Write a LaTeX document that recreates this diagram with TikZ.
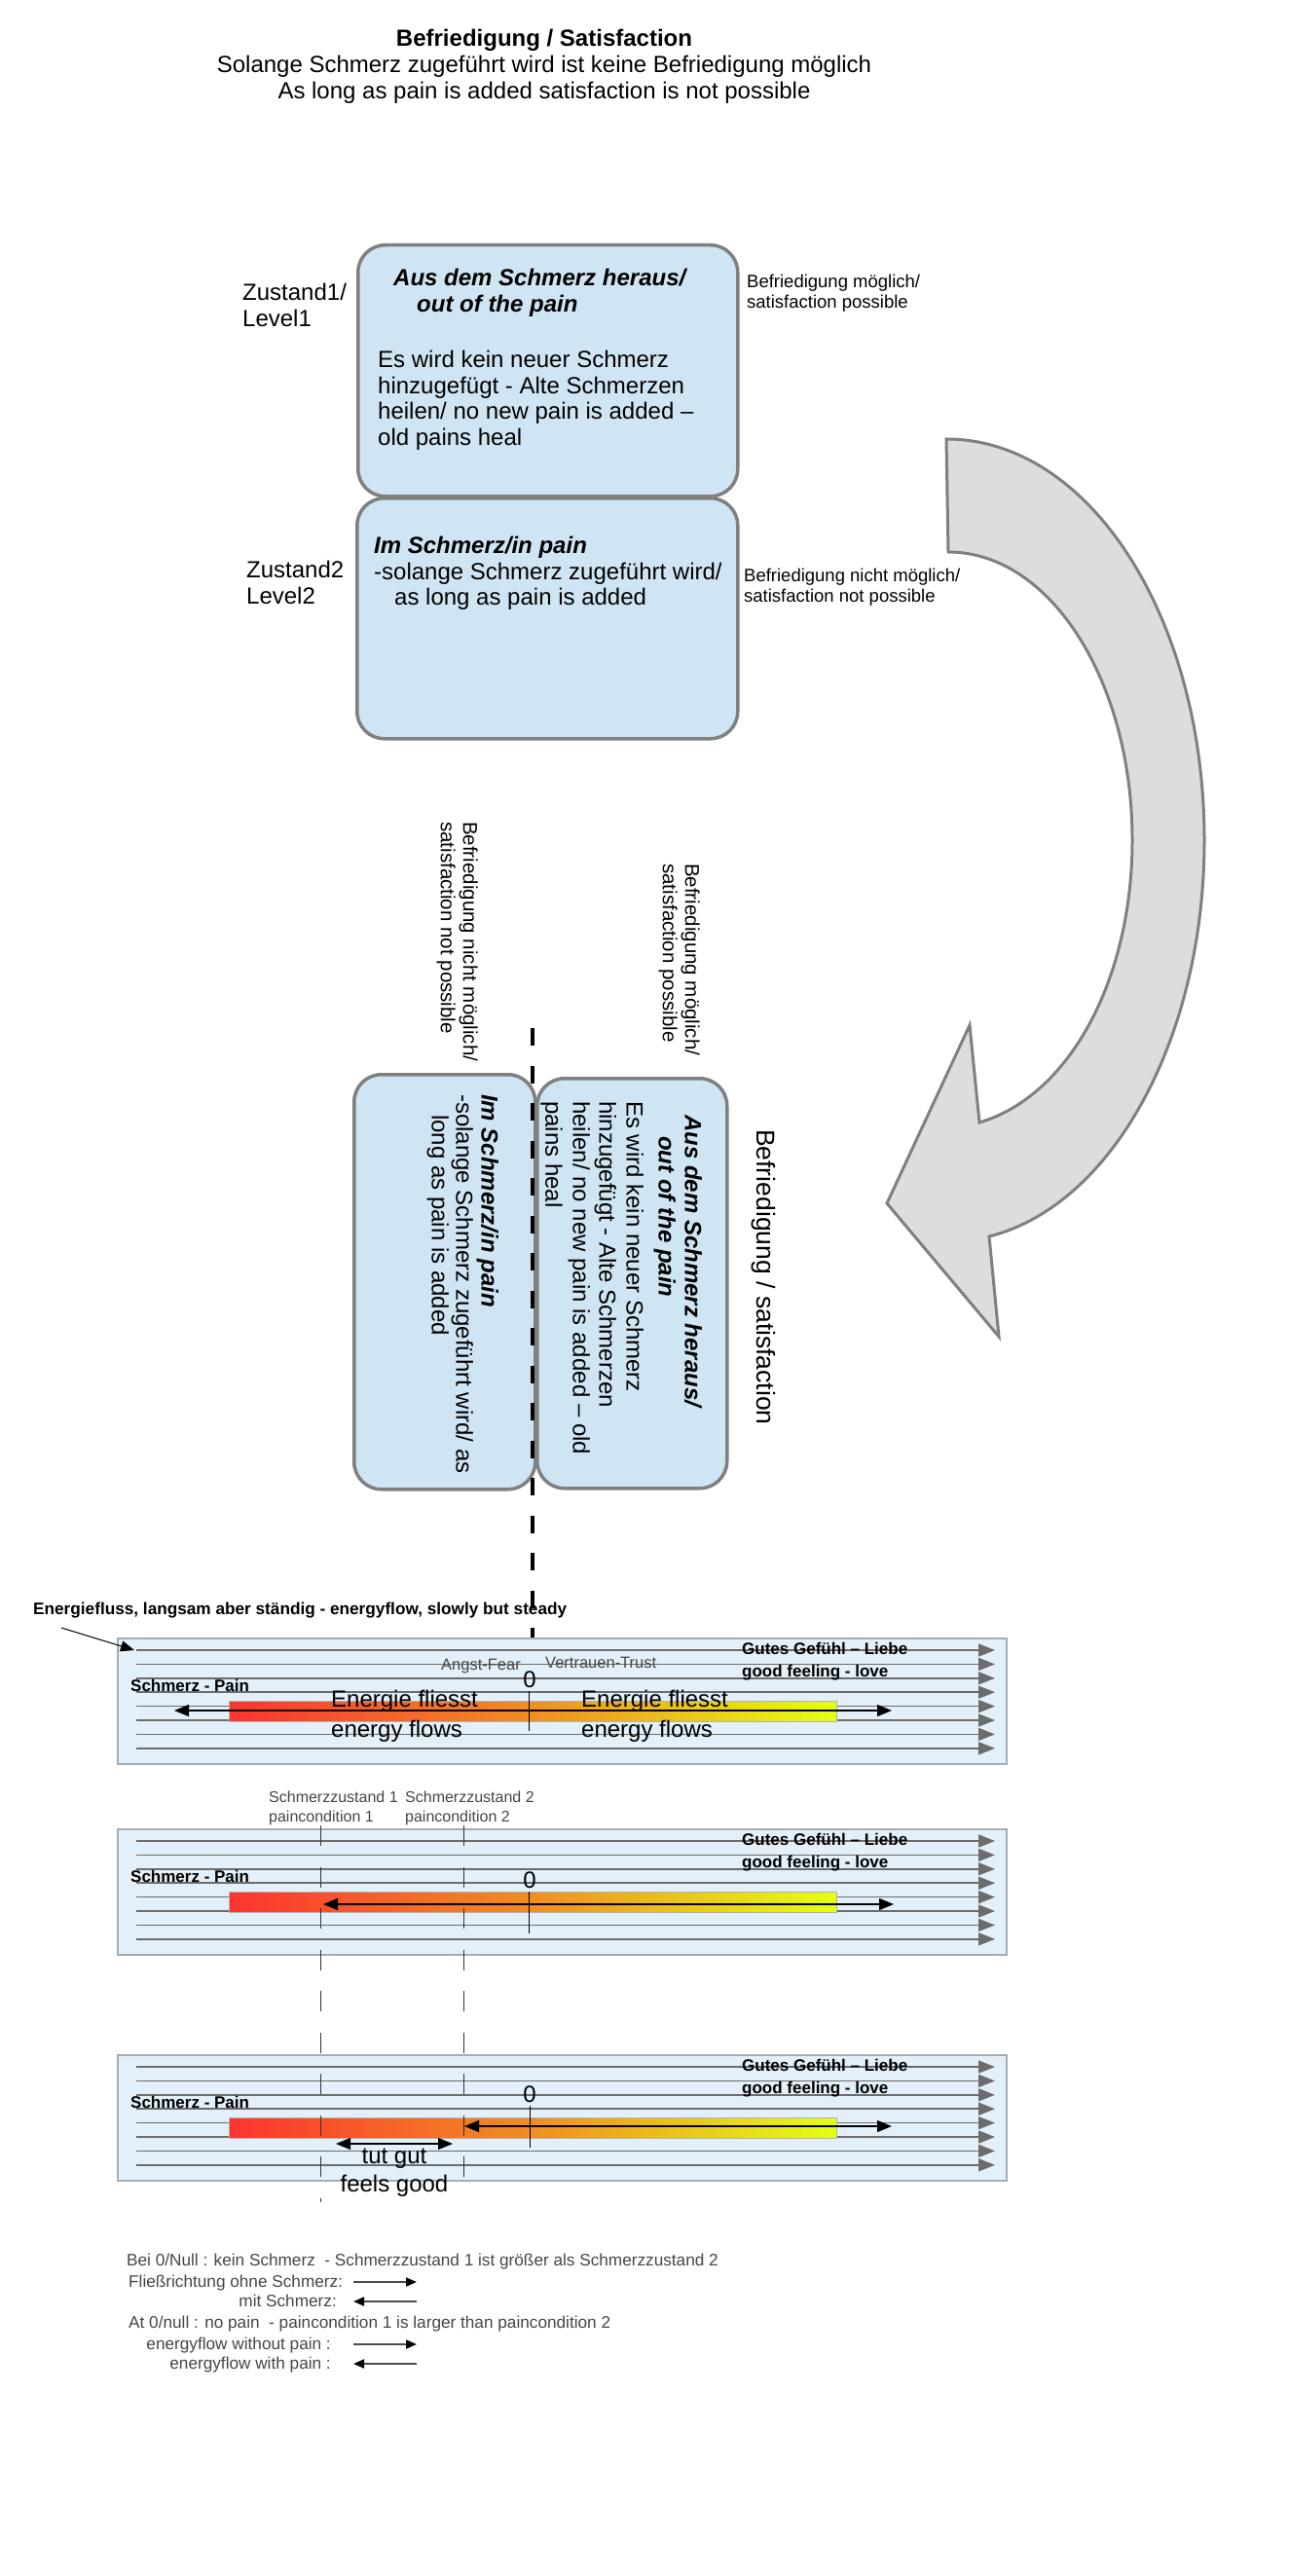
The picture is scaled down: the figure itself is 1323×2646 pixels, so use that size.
\documentclass[tikz,border=0pt]{standalone}
\usepackage{fontspec}
\setmainfont{Liberation Sans}
\usetikzlibrary{arrows.meta,calc,positioning}
\definecolor{boxblue}{RGB}{208,229,243}
\definecolor{boxgray}{RGB}{128,128,128}
\definecolor{rowblue}{RGB}{228,240,249}
\definecolor{rowedge}{RGB}{165,172,180}
\definecolor{flowgray}{RGB}{108,108,108}
\definecolor{bendgray}{RGB}{221,221,221}
\definecolor{painred}{RGB}{252,52,48}
\definecolor{painorange}{RGB}{240,142,34}
\definecolor{loveyellow}{RGB}{228,255,20}
\definecolor{faintgray}{RGB}{70,70,70}
\tikzset{levelbox/.style={draw=boxgray, fill=boxblue, line width=3.5pt, rounded corners=28pt, inner sep=0pt}}
\tikzset{bendarrow/.style={draw=boxgray, fill=bendgray, line width=3pt}}
\tikzset{rowbox/.style={draw=rowedge, fill=rowblue, line width=1.5pt, inner sep=0pt, minimum width=913pt, minimum height=129pt}}
\tikzset{painbar/.style={draw=gray!60, line width=0.8pt, inner sep=0pt, minimum width=624pt, minimum height=21pt, left color=painred, right color=loveyellow, middle color=painorange}}
\tikzset{flow/.style={draw=flowgray, line width=1.6pt, -{Triangle[length=17pt,width=13pt]}}}
\tikzset{flowline/.style={draw=black, line width=1.3pt, {Triangle[length=15pt,width=12pt]}-{Triangle[length=15pt,width=12pt]}}}
\tikzset{keyarrow/.style={draw=black!70, line width=2pt, -{Triangle[length=11pt,width=9pt,black]}}}
\tikzset{pointer/.style={draw=black, line width=1pt, -{Triangle[length=14pt,width=11pt]}}}
\tikzset{cutline/.style={draw=black, line width=3.5pt, dash pattern=on 18pt off 20.5pt}}
\tikzset{pcline/.style={draw=black!80, line width=1pt, dash pattern=on 21pt off 21.5pt}}
\tikzset{zeroline/.style={draw=black, line width=1pt}}
\tikzset{txt/.style={inner sep=0pt, font=\fontsize{24}{26.5}\selectfont}}
\tikzset{bitxt/.style={inner sep=0pt, font=\bfseries\itshape\fontsize{24}{26.5}\selectfont}}
\tikzset{smalltxt/.style={inner sep=0pt, font=\fontsize{18.5}{21}\selectfont}}
\tikzset{sidetxt/.style={inner sep=0pt, font=\fontsize{20.5}{23}\selectfont}}
\tikzset{tag/.style={inner sep=0pt, font=\bfseries\fontsize{17}{23}\selectfont}}
\tikzset{faint/.style={inner sep=0pt, text=faintgray, font=\fontsize{16}{20}\selectfont}}
\tikzset{keytxt/.style={inner sep=0pt, text=faintgray, font=\fontsize{17.2}{20}\selectfont}}
\begin{document}
\begin{tikzpicture}[x=1pt, y=-1pt]
\useasboundingbox (0,0) rectangle (1323,2646);
\path[fill=white] (0,0) rectangle (1323,2646);

% title
\node[txt, font=\fontsize{24}{27}\selectfont, align=center, anchor=north] (title) at (559,30) {\textbf{Befriedigung / Satisfaction}\\Solange Schmerz zugeführt wird ist keine Befriedigung möglich\\As long as pain is added satisfaction is not possible};

% the two levels
\node[levelbox, minimum width=390pt, minimum height=258pt, anchor=north west] (lvl1) at (366,250) {};
\node[levelbox, minimum width=391pt, minimum height=247pt, anchor=north west] (lvl2) at (365,510) {};

\node[txt, align=left, anchor=north west] (zst1) at (249,291) {Zustand1/\\Level1};
\node[txt, align=left, anchor=north west] (zst2) at (253,576) {Zustand2\\Level2};

\node[bitxt, anchor=base west] (outhead) at (404,293.5) {Aus dem Schmerz heraus/};
\node[bitxt, anchor=base west] (outsub) at (428,320) {out of the pain};
\node[txt, align=left, anchor=north west] (outbody) at (388,360) {Es wird kein neuer Schmerz\\hinzugefügt - Alte Schmerzen\\heilen/ no new pain is added –\\old pains heal};

\node[bitxt, anchor=base west] (inhead) at (384,568.5) {Im Schmerz/in pain};
\node[txt, anchor=base west] (inbody) at (384,595.5) {-solange Schmerz zugeführt wird/};
\node[txt, anchor=base west] (inbody2) at (405,621.5) {as long as pain is added};

\node[smalltxt, align=left, anchor=north west] (satyes) at (767,281.5) {Befriedigung möglich/\\satisfaction possible};
\node[smalltxt, align=left, anchor=north west] (satno) at (764,584) {Befriedigung nicht möglich/\\satisfaction not possible};

% turning arrow
\draw[bendarrow] (972,451) .. controls (1120,451) and (1237,636) .. (1237,863)
  .. controls (1237,1066) and (1143,1238) .. (1016,1270) -- (1026,1373) -- (911,1236) -- (996,1053) -- (1006,1153)
  .. controls (1100,1125) and (1163,1004) .. (1163,863) .. controls (1163,700) and (1079,567) .. (974,567) -- cycle;

% the levels turned
\node[levelbox, minimum width=186pt, minimum height=426pt, anchor=north west] (rotin) at (362,1102) {};
\node[levelbox, minimum width=195pt, minimum height=421pt, anchor=north west] (rotout) at (550,1106) {};

\node[bitxt, rotate=-90, anchor=base west] (rotinhead) at (494.6,1124) {Im Schmerz/in pain};
\node[txt, rotate=-90, anchor=base west] (rotinbody) at (468.6,1124) {-solange Schmerz zugeführt wird/ as};
\node[txt, rotate=-90, anchor=base west] (rotinbody2) at (443.6,1145) {long as pain is added};

\node[bitxt, rotate=-90, anchor=base west] (rotouthead) at (703.6,1145) {Aus dem Schmerz heraus/};
\node[bitxt, rotate=-90, anchor=base west] (rotoutsub) at (676.6,1167) {out of the pain};
\node[txt, rotate=-90, anchor=base west] (rotoutb1) at (643.6,1131) {Es wird kein neuer Schmerz};
\node[txt, rotate=-90, anchor=base west] (rotoutb2) at (615.5,1131) {hinzugefügt - Alte Schmerzen};
\node[txt, rotate=-90, anchor=base west] (rotoutb3) at (588.6,1131) {heilen/ no new pain is added – old};
\node[txt, rotate=-90, anchor=base west] (rotoutb4) at (560.3,1131) {pains heal};

\node[sidetxt, rotate=-90, align=left, anchor=north west] (rotsatno) at (491,844) {Befriedigung nicht möglich/\\satisfaction not possible};
\node[sidetxt, rotate=-90, align=left, anchor=north west] (rotsatyes) at (719,887) {Befriedigung möglich/\\satisfaction possible};
\node[txt, font=\fontsize{26.5}{30}\selectfont, rotate=-90, anchor=base west] (rotsat) at (777,1160) {Befriedigung / satisfaction};

\coordinate (cuttop) at (547,1056);
\coordinate (cutend) at (547,1690);
\path[cutline] (cuttop) -- (cutend);

% energy rows
\foreach \rowname/\rowy in {one/1682,two/1878,three/2110}{
  \node[rowbox, anchor=north west] (row\rowname) at (120,\rowy) {};
  \foreach \k in {0,...,7}
    \path[flow] (140,{\rowy+13+14.4*\k}) -- (1022,{\rowy+13+14.4*\k});
  \node[painbar, anchor=north west] (bar\rowname) at (235,{\rowy+65}) {};
  \node[tag, anchor=base west] (pain\rowname) at (134,{\rowy+55}) {Schmerz - Pain};
  \node[tag, align=left, anchor=north west] (love\rowname) at (762,{\rowy+4.6}) {Gutes Gefühl – Liebe\\good feeling - love};
}

% row one
\coordinate (lone) at (179,1757);
\coordinate (rone) at (916,1757);
\path[flowline] (lone) -- (rone);
\draw[zeroline] (543,1737) -- (543,1778);
\node[txt, anchor=base] (zeroone) at (544,1733) {0};
\node[faint, font=\fontsize{16.5}{20}\selectfont, anchor=base east] (fear) at (535,1715) {Angst-Fear};
\node[faint, font=\fontsize{16.5}{20}\selectfont, anchor=base west] (trust) at (560,1713) {Vertrauen-Trust};
\node[txt, anchor=base west] (flowsa) at (340,1753) {Energie fliesst};
\node[txt, anchor=base west] (flowsb) at (340,1784) {energy flows};
\node[txt, anchor=base west] (flowsc) at (597,1753) {Energie fliesst};
\node[txt, anchor=base west] (flowsd) at (597,1784) {energy flows};

\node[tag, font=\bfseries\fontsize{17.2}{23}\selectfont, anchor=base west] (steady) at (34,1658) {Energiefluss, langsam aber ständig - energyflow, slowly but steady};
\coordinate (ptr) at (63,1672);
\coordinate (flowstart) at (138,1695);
\path[pointer] (ptr) -- (flowstart);

% row two
\coordinate (ltwo) at (332,1956);
\coordinate (rtwo) at (918,1956);
\path[flowline] (ltwo) -- (rtwo);
\draw[zeroline] (543,1943) -- (543,1986);
\node[txt, anchor=base] (zerotwo) at (544,1939) {0};
\node[faint, align=left, anchor=north west] (pcone) at (276,1840) {Schmerzzustand 1\\paincondition 1};
\node[faint, align=left, anchor=north west] (pctwo) at (416,1840) {Schmerzzustand 2\\paincondition 2};

% row three
\coordinate (lthree) at (477,2184);
\coordinate (rthree) at (916,2184);
\path[flowline] (lthree) -- (rthree);
\draw[zeroline] (544,2163) -- (544,2206);
\node[txt, anchor=base] (zerothree) at (544,2159) {0};
\coordinate (goodl) at (345,2202);
\coordinate (goodr) at (465,2202);
\path[flowline] (goodl) -- (goodr);
\node[txt, anchor=base] (tutgut) at (405,2222) {tut gut};
\node[txt, anchor=base] (feelsgood) at (405,2251) {feels good};

% pain conditions
\path[pcline] (329,1875) -- (329,2262);
\path[pcline] (476,1875) -- (476,2240);

% legend
\node[keytxt, anchor=base west] (nullde) at (130,2327) {Bei 0/Null : kein Schmerz\ \ - Schmerzzustand 1 ist größer als Schmerzzustand 2};
\node[keytxt, anchor=base west] (ohne) at (132,2349) {Fließrichtung ohne Schmerz:};
\node[keytxt, anchor=base east] (mit) at (346,2369) {mit Schmerz:};
\node[keytxt, anchor=base west] (nullen) at (132,2391) {At 0/null : no pain\ \ - paincondition 1 is larger than paincondition 2};
\node[keytxt, anchor=base east] (without) at (340,2413) {energyflow without pain :};
\node[keytxt, anchor=base east] (with) at (340,2433) {energyflow with pain :};
\coordinate (ohnea) at (363,2344);
\coordinate (ohneb) at (428,2344);
\coordinate (mita) at (428,2364);
\coordinate (mitb) at (363,2364);
\coordinate (withouta) at (363,2408);
\coordinate (withoutb) at (428,2408);
\coordinate (witha) at (428,2428);
\coordinate (withb) at (363,2428);
\path[keyarrow] (ohnea) -- (ohneb);
\path[keyarrow] (mita) -- (mitb);
\path[keyarrow] (withouta) -- (withoutb);
\path[keyarrow] (witha) -- (withb);
\end{tikzpicture}
\end{document}
